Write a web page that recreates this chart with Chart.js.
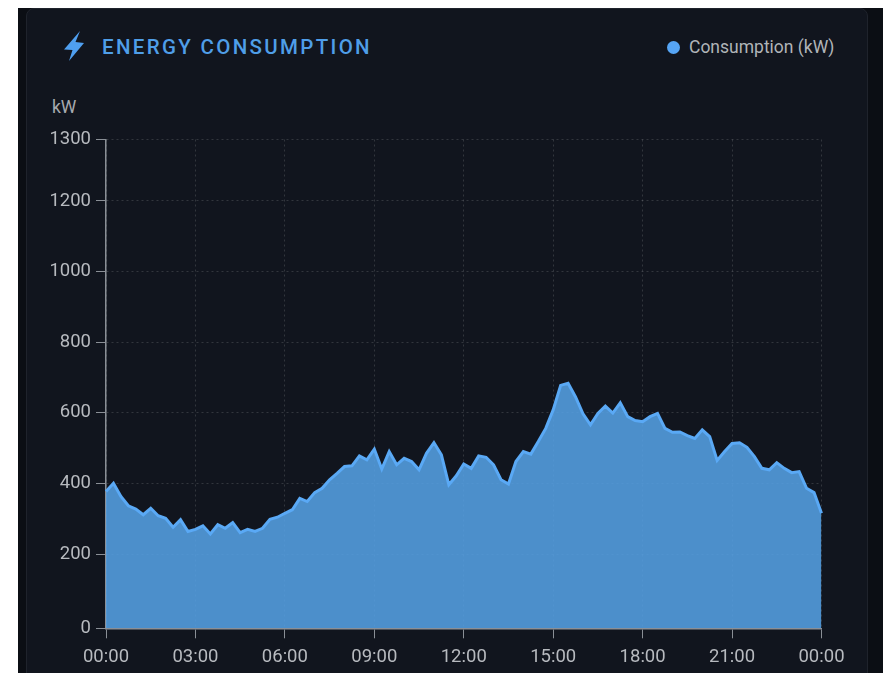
<!DOCTYPE html>
<html>
<head>
<meta charset="utf-8">
<script src="https://cdn.jsdelivr.net/npm/chart.js@4"></script>
<style>
html,body{margin:0;padding:0;background:#fff;width:883px;height:673px;overflow:hidden;font-family:Roboto,sans-serif}
#outer{position:absolute;left:18px;top:8px;width:865px;height:665px;background:#0b0e14}
#card{position:absolute;left:26px;top:8px;width:840px;height:680px;background:#11151e;border:1px solid #1f232c;border-radius:8px;box-sizing:content-box}
canvas{position:absolute;left:0;top:0}
.t{position:absolute;white-space:nowrap}
#title{left:102px;top:35px;font-size:20.5px;line-height:24px;font-weight:500;letter-spacing:2.33px;color:#4f9ee8}
#bolt{position:absolute;left:0;top:0}
#dot{position:absolute;left:667px;top:41px;width:13px;height:13px;border-radius:50%;background:#56a5f5}
#legend{left:689px;top:37px;font-size:17.5px;line-height:20px;color:#b0b4b8}
#unit{left:52px;top:97px;font-size:17.5px;line-height:20px;color:#a6aaaf}
</style>
</head>
<body>
<div id="outer"></div>
<div id="card"></div>
<svg id="bolt" width="100" height="70"><path d="M80 31 L64 49.5 L72.5 50 L69 61 L84 43 L75.5 42 Z" fill="#4f9ff0"/></svg>
<div class="t" id="title">ENERGY CONSUMPTION</div>
<div id="dot"></div>
<div class="t" id="legend"></div>
<div class="t" id="unit">kW</div>
<canvas id="c" width="883" height="673"></canvas>
<script>
const seriesName = 'Consumption (kW)';
const tickLabels = ['00:00','03:00','06:00','09:00','12:00','15:00','18:00','21:00','00:00'];
const yTicks = [0,200,400,600,800,1000,1200,1300];
const consumption = [
377,400,363,337,328,312,330,309,302,277,298,265,
271,281,258,284,274,290,262,271,265,274,299,305,
316,326,358,349,374,386,410,428,447,449,477,466,
496,440,489,452,470,461,438,484,514,480,396,421,
454,442,477,473,452,410,398,461,489,482,517,554,
606,676,682,643,595,564,596,617,597,626,587,576,
573,587,596,554,543,544,534,526,550,531,464,489,
512,514,501,475,442,438,458,442,430,433,386,374,316
];
const categories = consumption.map((_, i) => i);

// The reference's value axis is not evenly spaced: each tick has its own share of the axis height.
const yTickShares = [0,0.1506,0.2966,0.4425,0.5857,0.7304,0.8742,1];
class ReferenceAxisScale extends Chart.LinearScale {
  getPixelForValue(v) {
    if (v === null) return NaN;
    let i = 0;
    while (i < yTicks.length - 2 && v > yTicks[i + 1]) i++;
    const t = (v - yTicks[i]) / (yTicks[i + 1] - yTicks[i]);
    return this.getPixelForDecimal(yTickShares[i] + t * (yTickShares[i + 1] - yTickShares[i]));
  }
}
ReferenceAxisScale.id = 'referenceAxis';
ReferenceAxisScale.defaults = Chart.LinearScale.defaults;
Chart.register(ReferenceAxisScale);

document.getElementById('legend').textContent = seriesName;

const tickFont = {family: 'Roboto', size: 18.5};
const gridColor = 'rgba(255,255,255,0.14)';
const axisColor = '#8a8f96';
new Chart(document.getElementById('c'), {
  type: 'line',
  data: {
    labels: categories,
    datasets: [{
      label: seriesName,
      data: consumption,
      borderColor: '#5aa9f5',
      borderWidth: 3,
      backgroundColor: 'rgba(87,164,234,0.85)',
      fill: 'origin',
      tension: 0,
      pointRadius: 0,
      clip: false
    }]
  },
  options: {
    responsive: false,
    animation: false,
    layout: {padding: {left: 45, right: 61.5, top: 139.5, bottom: 0}},
    plugins: {legend: {display: false}, title: {display: false}, tooltip: {enabled: false}},
    scales: {
      x: {
        type: 'category',
        offset: false,
        afterBuildTicks: s => { s.ticks = s.ticks.filter(t => t.value % 12 === 0); },
        afterFit: s => { s.height = 44.7; },
        grid: {color: gridColor, tickColor: axisColor, tickLength: 10, offset: false, tickBorderDash: []},
        border: {color: axisColor, dash: [2, 3], width: 1.5, z: 1},
        ticks: {
          autoSkip: false, maxRotation: 0, padding: 8, color: '#b7babf', font: tickFont,
          callback: (v) => tickLabels[v / 12]
        }
      },
      y: {
        type: 'referenceAxis',
        min: 0,
        max: 1300,
        afterBuildTicks: s => { s.ticks = yTicks.map(v => ({value: v})); },
        afterFit: s => { s.width = 61; },
        grid: {color: gridColor, tickColor: axisColor, tickLength: 10, tickBorderDash: []},
        border: {color: axisColor, dash: [2, 3], width: 1.5},
        ticks: {
          autoSkip: false, padding: 5, color: '#b7babf', font: tickFont,
          callback: v => String(v)
        }
      }
    }
  }
});
</script>
</body>
</html>
